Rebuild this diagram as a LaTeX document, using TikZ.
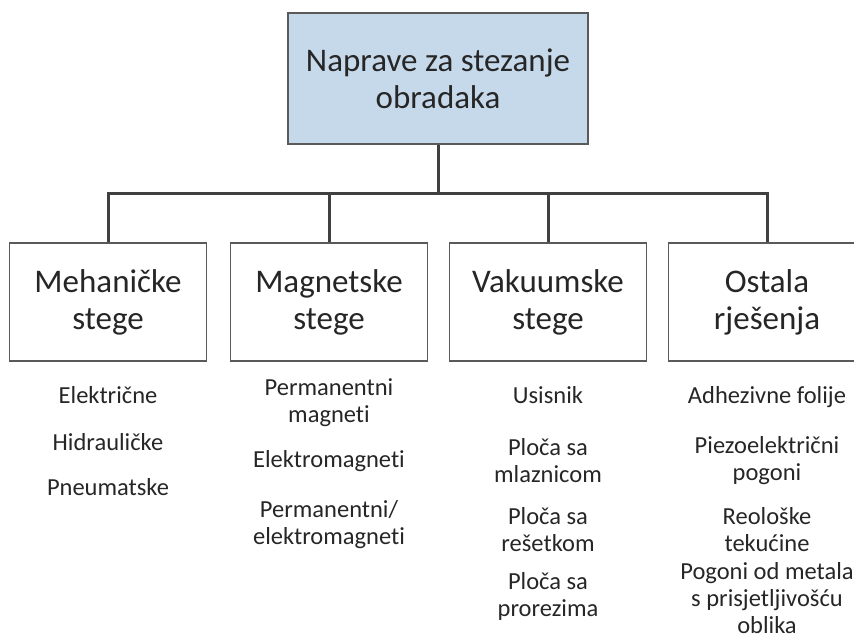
\documentclass[tikz,border=0pt]{standalone}
\usepackage{fontspec}
\setmainfont[Ligatures=NoCommon]{Carlito}
\definecolor{topfill}{RGB}{198,217,235}
\definecolor{boxline}{RGB}{90,90,90}
\definecolor{connline}{RGB}{64,64,64}
\begin{document}
\begin{tikzpicture}[x=1pt,y=-1pt,
  box/.style={draw=boxline,line width=1.6pt,fill=white,minimum width=197pt,minimum height=118pt,align=center,inner sep=0pt,font=\fontsize{33}{37}\selectfont,text=black!85},
  topbox/.style={box,fill=topfill,minimum width=300pt,minimum height=131pt},
  item/.style={align=center,inner sep=0pt,font=\fontsize{24.5}{27}\selectfont,text=black!85},
  conn/.style={draw=connline,line width=3pt}]
\useasboundingbox (0,0) rectangle (854,637);
\node[topbox] (top) at (438,78.5) {Naprave za stezanje\\obradaka};
\node[box] (b1) at (108,302) {Mehaničke\\stege};
\node[box] (b2) at (329,302) {Magnetske\\stege};
\node[box] (b3) at (548,302) {Vakuumske\\stege};
\node[box] (b4) at (767,302) {Ostala\\rješenja};
\coordinate (j) at (438,193);
\draw[conn] (top.south) -- (j);
\draw[conn] (b1.north) |- (j) -| (b4.north);
\draw[conn] (b2.north) -- (b2.north |- j);
\draw[conn] (b3.north) -- (b3.north |- j);
% column 1
\node[item,anchor=base] (m1) at (108,403) {Električne};
\node[item,anchor=base] (m2) at (108,450) {Hidrauličke};
\node[item,anchor=base] (m3) at (108,495) {Pneumatske};
% column 2
\node[item] (g1) at (329,403) {Permanentni\\magneti};
\node[item,anchor=base] (g2) at (329,467) {Elektromagneti};
\node[item] (g3) at (329,525) {Permanentni/\\elektromagneti};
% column 3
\node[item,anchor=base] (v1) at (548,403) {Usisnik};
\node[item] (v2) at (548,461) {Ploča sa\\mlaznicom};
\node[item] (v3) at (548,530) {Ploča sa\\rešetkom};
\node[item] (v4) at (548,596) {Ploča sa\\prorezima};
% column 4
\node[item,anchor=base] (o1) at (767,403) {Adhezivne folije};
\node[item] (o2) at (767,461) {Piezoelektrični\\pogoni};
\node[item] (o3) at (767,530) {Reološke\\tekućine};
\node[item] (o4) at (767,598.5) {Pogoni od metala\\s prisjetljivošću\\oblika};
\end{tikzpicture}
\end{document}
